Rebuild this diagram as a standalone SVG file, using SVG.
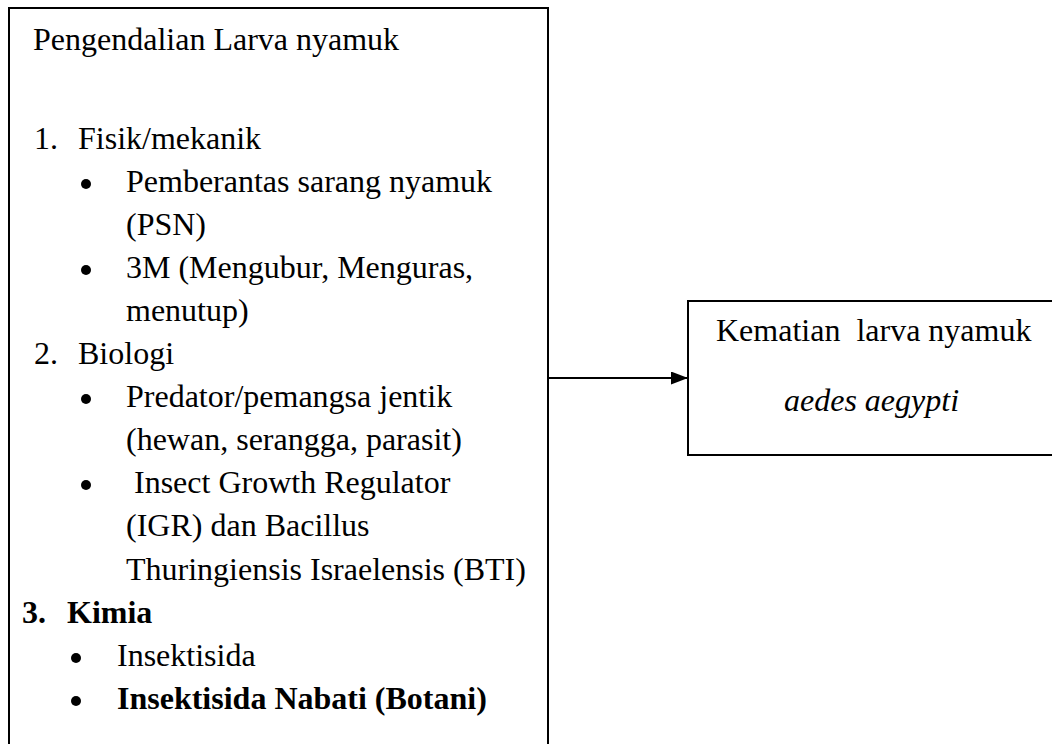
<svg xmlns="http://www.w3.org/2000/svg" width="1052" height="744" viewBox="0 0 1052 744">
<style>
.t{font-size:32px;fill:#000}
.b{font-weight:bold}
.i{font-style:italic}
.box{fill:#fff;stroke:#000;stroke-width:2}
.dot{fill:#000}
</style>
<defs>
<marker id="ah" markerWidth="17" markerHeight="13" refX="17" refY="6.5" orient="auto" markerUnits="userSpaceOnUse">
<path d="M0,0 L17,6.5 L0,13 Z" fill="#000"/>
</marker>
</defs>
<rect width="1052" height="744" fill="#fff"/>
<g id="node-left">
<rect class="box" x="9" y="8" width="539" height="740"/>
<g class="t" font-family="'Liberation Serif', serif" font-size="32">
<text x="33" y="50">Pengendalian Larva nyamuk</text>
<text x="34" y="149">1.</text><text x="78" y="149">Fisik/mekanik</text>
<text x="126" y="192">Pemberantas sarang nyamuk</text>
<text x="126" y="235">(PSN)</text>
<text x="126" y="278">3M (Mengubur, Menguras,</text>
<text x="126" y="321">menutup)</text>
<text x="34" y="364">2.</text><text x="78" y="364">Biologi</text>
<text x="126" y="407">Predator/pemangsa jentik</text>
<text x="126" y="450">(hewan, serangga, parasit)</text>
<text x="126" y="493" xml:space="preserve"> Insect Growth Regulator</text>
<text x="126" y="536">(IGR) dan Bacillus</text>
<text x="126" y="580">Thuringiensis Israelensis (BTI)</text>
<text class="b" x="22" y="623" font-weight="bold">3.</text><text class="b" x="67" y="623" font-weight="bold">Kimia</text>
<text x="117" y="666">Insektisida</text>
<text class="b" x="117" y="709" font-weight="bold">Insektisida Nabati (Botani)</text>
</g>
<circle class="dot" cx="86" cy="184" r="5"/>
<circle class="dot" cx="86" cy="270" r="5"/>
<circle class="dot" cx="86" cy="399" r="5"/>
<circle class="dot" cx="86" cy="485" r="5"/>
<circle class="dot" cx="76" cy="658" r="5"/>
<circle class="dot" cx="76" cy="701" r="5"/>
</g>
<g id="node-right">
<rect class="box" x="688" y="301" width="370" height="154"/>
<g class="t" font-family="'Liberation Serif', serif" font-size="32">
<text x="716" y="341" xml:space="preserve">Kematian  larva nyamuk</text>
<text class="i" x="784" y="411" font-style="italic">aedes aegypti</text>
</g>
</g>
<g id="connectors">
<line x1="548" y1="378" x2="688" y2="378" stroke="#000" stroke-width="2" marker-end="url(#ah)"/>
</g>
</svg>
